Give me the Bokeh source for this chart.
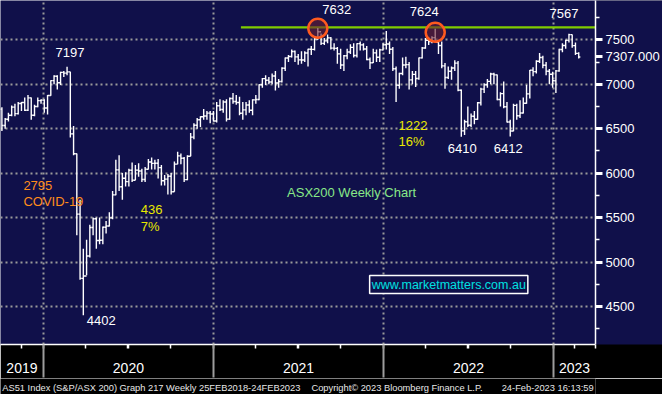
import numpy as np
import pandas as pd
from bokeh.plotting import figure
from bokeh.layouts import column
from bokeh.models import ColumnDataSource, FixedTicker, Label, Range1d, CustomJSTickFormatter
from bokeh.embed import file_html
from bokeh.resources import INLINE

FONT = "Liberation Sans"
NAVY = "#10104a"

# ---------------- data: S&P/ASX 200 weekly bars (week ending Friday) ----------------
first_week = "2019-10-04"

opens = [
    6720, 6535, 6606, 6651, 6742, 6669, 6784, 6795, 6708, 6846, 6651, 6750, 6816,
    6821, 6733, 6874, 7041, 7090, 7017, 7133, 7125, 7139, 6441, 6218, 5539, 4816,
    4842, 5068, 5388, 5487, 5242, 5245, 5391, 5405, 5497, 5755, 6037, 5847, 5942,
    5904, 6033, 5920, 6034, 6024, 5928, 6043, 6125, 6110, 6111, 6062, 5914, 5933,
    5964, 5791, 6101, 6194, 6167, 5927, 6190, 6405, 6539, 6601, 6634, 6642, 6675,
    6665,
    6587, 6758, 6716, 6800, 6607, 6840, 6806, 6794, 6673, 6711, 6767, 6708, 6824,
    6828, 6995, 7063, 7044, 7025, 7092, 7014, 7030, 7179, 7295, 7312, 7369, 7308,
    7274, 7273, 7351, 7394, 7392, 7511, 7590, 7460, 7488, 7522, 7406, 7403, 7342,
    7216, 7320, 7363, 7415, 7323, 7457, 7443, 7397, 7279, 7241, 7353, 7304, 7387,
    7444, 7453, 7393, 7174, 6988, 7121, 7217, 7221, 7049, 7111, 7064, 7296, 7407,
    7493, 7479, 7524, 7473, 7435, 7206, 7075, 7146, 7182, 7238, 6932, 6475, 6578,
    6538, 6640, 6606, 6792, 6945, 6995, 7032, 7115, 7105, 6829, 6894, 6747, 6575,
    6474, 6762, 6645, 6677, 6786, 6892, 7158, 7142, 7259, 7301, 7214, 7146, 7112,
    7039, 7150, 7391, 7435, 7493, 7558, 7434, 7347,
]
highs = [
    6740, 6620, 6680, 6760, 6780, 6800, 6800, 6850, 6880, 6850, 6770, 6850, 6830,
    6830, 6880, 7045, 7100, 7100, 7140, 7150, 7197, 7140, 6530, 6220, 5700, 5150,
    5250, 5420, 5500, 5500, 5500, 5400, 5460, 5560, 5800, 6150, 6200, 6000, 6010,
    6050, 6120, 6090, 6110, 6050, 6070, 6160, 6175, 6150, 6160, 6090, 5980, 5990,
    6000, 6130, 6240, 6220, 6180, 6200, 6450, 6560, 6620, 6640, 6720, 6700, 6700,
    6700,
    6800, 6830, 6820, 6830, 6850, 6900, 6880, 6860, 6800, 6800, 6820, 6830, 6880,
    7000, 7070, 7100, 7080, 7120, 7150, 7060, 7190, 7300, 7330, 7390, 7380, 7340,
    7370, 7370, 7400, 7430, 7520, 7632, 7570, 7520, 7560, 7530, 7460, 7420, 7400,
    7330, 7400, 7450, 7460, 7460, 7480, 7460, 7430, 7300, 7400, 7390, 7400, 7460,
    7600, 7480, 7420, 7200, 7130, 7300, 7310, 7250, 7150, 7150, 7300, 7420, 7520,
    7530, 7540, 7624, 7500, 7480, 7240, 7200, 7200, 7270, 7260, 6940, 6600, 6750,
    6670, 6700, 6800, 6960, 7010, 7060, 7130, 7130, 7110, 6910, 7030, 6800, 6600,
    6780, 6780, 6820, 6850, 6990, 7160, 7190, 7270, 7350, 7320, 7250, 7170, 7140,
    7160, 7400, 7460, 7500, 7567, 7560, 7470, 7360,
]
lows = [
    6475, 6500, 6580, 6640, 6640, 6660, 6700, 6700, 6700, 6600, 6640, 6740, 6780,
    6680, 6660, 6870, 7000, 6940, 6990, 7080, 7100, 6400, 6200, 5300, 4800, 4402,
    4850, 5050, 5300, 5150, 5200, 5200, 5320, 5400, 5480, 5750, 5800, 5700, 5850,
    5850, 5900, 5920, 5960, 5900, 5900, 6040, 6040, 6040, 5940, 5860, 5860, 5760,
    5760, 5790, 6100, 6100, 5900, 5920, 6190, 6380, 6500, 6520, 6600, 6600, 6560,
    6580,
    6570, 6700, 6680, 6580, 6600, 6780, 6770, 6650, 6600, 6650, 6680, 6650, 6780,
    6820, 6960, 6990, 7000, 7000, 6930, 6960, 7020, 7150, 7250, 7300, 7250, 7220,
    7230, 7250, 7200, 7330, 7380, 7500, 7440, 7440, 7460, 7390, 7380, 7230, 7170,
    7150, 7280, 7340, 7300, 7300, 7380, 7380, 7270, 7170, 7240, 7250, 7250, 7380,
    7390, 7340, 7150, 6800, 6950, 7100, 7180, 6940, 7000, 6970, 7050, 7290, 7400,
    7440, 7460, 7470, 7340, 7180, 6950, 7060, 7050, 7150, 6920, 6410, 6430, 6520,
    6520, 6550, 6600, 6760, 6900, 6960, 7000, 7000, 6820, 6750, 6730, 6570, 6412,
    6470, 6600, 6620, 6670, 6780, 6840, 7090, 7120, 7240, 7180, 7100, 7000, 6960,
    6900, 7140, 7360, 7400, 7470, 7410, 7330, 7290,
]
closes = [
    6535, 6606, 6651, 6742, 6669, 6784, 6795, 6708, 6846, 6651, 6750, 6816, 6821,
    6733, 6874, 7041, 7090, 7017, 7133, 7125, 7139, 6441, 6218, 5539, 4816, 4842,
    5068, 5388, 5487, 5242, 5245, 5391, 5405, 5497, 5755, 6037, 5847, 5942, 5904,
    6033, 5920, 6034, 6024, 5928, 6043, 6125, 6110, 6111, 6062, 5914, 5933, 5964,
    5791, 6101, 6194, 6167, 5927, 6190, 6405, 6539, 6601, 6634, 6642, 6675, 6665,
    6587,
    6758, 6716, 6800, 6607, 6840, 6806, 6794, 6673, 6711, 6767, 6708, 6824, 6828,
    6995, 7063, 7044, 7025, 7092, 7014, 7030, 7179, 7295, 7312, 7369, 7308, 7274,
    7273, 7351, 7394, 7392, 7511, 7590, 7460, 7488, 7522, 7406, 7403, 7342, 7216,
    7320, 7363, 7415, 7323, 7457, 7443, 7397, 7279, 7241, 7353, 7304, 7387, 7444,
    7453, 7393, 7174, 6988, 7121, 7217, 7221, 7049, 7111, 7064, 7296, 7407, 7493,
    7479, 7524, 7473, 7435, 7206, 7075, 7146, 7182, 7238, 6932, 6475, 6578, 6538,
    6640, 6606, 6792, 6945, 6995, 7032, 7115, 7105, 6829, 6894, 6747, 6575, 6474,
    6762, 6645, 6677, 6786, 6892, 7158, 7142, 7259, 7301, 7214, 7146, 7112, 7039,
    7150, 7391, 7435, 7493, 7558, 7434, 7347, 7307,
]

view_start, view_end = "2019-10-01", "2023-04-01"
y_lo, y_hi = 4072, 7942
y_ticks = [4500, 5000, 5500, 6000, 6500, 7000, 7500]
y_minor = [4250, 4750, 5250, 5750, 6250, 6750, 7250, 7750]
year_starts = ["2020-01-01", "2021-01-01", "2022-01-01", "2023-01-01"]
quarter_starts = ["2019-10-01", "2020-01-01", "2020-04-01", "2020-07-01", "2020-10-01",
                  "2021-01-01", "2021-04-01", "2021-07-01", "2021-10-01", "2022-01-01",
                  "2022-04-01", "2022-07-01", "2022-10-01", "2023-01-01", "2023-04-01"]
year_names = ["2019", "2020", "2021", "2022", "2023"]

resistance_start = "2021-03-01"
resistance_level = 7640
circle_weeks = ["2021-08-13", "2022-04-22"]
circle_levels = [7630, 7585]

# week, which extreme is labelled
extreme_notes = [("2020-02-21", "high"), ("2020-03-27", "low"), ("2021-08-13", "high"),
                 ("2022-04-22", "high"), ("2022-06-17", "low"), ("2022-09-30", "low"),
                 ("2023-02-03", "high")]

footer_texts = ["AS51 Index (S&P/ASX 200) Graph 217  Weekly 25FEB2018-24FEB2023",
                "Copyright\u00a9 2023 Bloomberg Finance L.P.",
                "24-Feb-2023 16:13:59"]


def frac_year(values):
    ts = pd.DatetimeIndex(pd.to_datetime(values))
    start = pd.to_datetime(ts.year.astype(str) + "-01-01")
    days = np.where(ts.is_leap_year, 366.0, 365.0)
    return np.asarray(ts.year + (ts - start).days / days, dtype=float)


dates = pd.date_range(first_week, periods=len(closes), freq="W-FRI")
xs = frac_year(dates)
x_lo, x_hi = frac_year([view_start, view_end])
yb = frac_year(year_starts)
qb = frac_year(quarter_starts)

half = 3.5 / 365.25
src = ColumnDataSource(dict(x=xs, xl=xs - half, xr=xs + half,
                            o=opens, h=highs, l=lows, c=closes))

W = 662
FW, FH = 598, 344
p = figure(width=W, height=378, output_backend="svg", toolbar_location=None,
           x_range=Range1d(x_lo, x_hi), y_range=Range1d(y_lo, y_hi),
           y_axis_location="right",
           background_fill_color=NAVY, border_fill_color="black",
           min_border_left=0, min_border_top=0, min_border_right=W - FW,
           min_border_bottom=34)
p.outline_line_color = None

# grids
p.xgrid.ticker = FixedTicker(ticks=list(yb))
p.ygrid.ticker = FixedTicker(ticks=y_ticks)
for g in (p.xgrid[0], p.ygrid[0]):
    g.grid_line_color = "#9a9a9a"
    g.grid_line_dash = "2 3"
    g.grid_line_width = 2

# bottom axis: small quarter ticks, year names centred in the visible part of each year,
# long grey separators at the year starts
edges = [x_lo] + list(yb) + [x_hi]
label_pos = [(edges[i] + edges[i + 1]) / 2 for i in range(len(edges) - 1)]
major = sorted(set([round(v, 6) for v in list(qb) + label_pos]))
xa = p.xaxis[0]
xa.ticker = FixedTicker(ticks=major, minor_ticks=list(yb))
xa.formatter = CustomJSTickFormatter(
    args=dict(pos=[round(v, 6) for v in label_pos], names=year_names),
    code="for (let i = 0; i < pos.length; i++) { if (Math.abs(tick - pos[i]) < 1e-4) return names[i]; } return '';")
xa.axis_line_color = "white"
xa.axis_line_width = 1.5
xa.major_tick_line_color = "white"
xa.major_tick_line_width = 1.5
xa.major_tick_out = 4
xa.major_tick_in = 0
xa.minor_tick_out = 33
xa.minor_tick_in = 0
xa.minor_tick_line_color = "#9c9c9c"
xa.minor_tick_line_width = 2
xa.major_label_standoff = -15
xa.major_label_text_color = "white"
xa.major_label_text_font = FONT
xa.major_label_text_font_size = "14px"

# right axis, with the last price shown as an extra labelled tick
last_txt = f"{closes[-1]:.3f}"
ya = p.yaxis[0]
ya.ticker = FixedTicker(ticks=y_ticks + [closes[-1]], minor_ticks=y_minor)
ya.major_label_overrides = {closes[-1]: last_txt}
ya.axis_line_color = "white"
ya.axis_line_width = 1.5
ya.major_tick_out = 7
ya.major_tick_in = 0
ya.major_tick_line_color = "white"
ya.major_tick_line_width = 3
ya.minor_tick_out = 4
ya.minor_tick_in = 0
ya.minor_tick_line_color = "white"
ya.minor_tick_line_width = 1.5
ya.major_label_standoff = 3
ya.major_label_text_color = "white"
ya.major_label_text_font = FONT
ya.major_label_text_font_size = "13px"
try:
    ya.background_fill_color = NAVY
except Exception:
    pass

# resistance line
p.segment(x0=[frac_year([resistance_start])[0]], y0=[resistance_level],
          x1=[x_hi], y1=[resistance_level], line_color="#80cc00", line_width=2.2)

# OHLC bars
bar_kw = dict(source=src, line_color="white", line_width=1.4)
p.segment(x0="x", y0="l", x1="x", y1="h", **bar_kw)
p.segment(x0="xl", y0="o", x1="x", y1="o", **bar_kw)
p.segment(x0="x", y0="c", x1="xr", y1="c", **bar_kw)

# circled tops
p.scatter(x=frac_year(circle_weeks), y=circle_levels, size=19, marker="circle",
          fill_color="#6a2030", fill_alpha=0.6, line_color="#ff5a1f", line_width=2.5)


def label(**kw):
    base = dict(text_font=FONT, text_font_size="13px", text_baseline="middle")
    base.update(kw)
    return Label(**base)


# labelled extremes, offsets in px
offsets = [(3, 14), (18, -5), (19, 19), (-11, 17), (1, -12), (-2, -12), (-5, 20)]
for (wk, kind), (dx, dy) in zip(extreme_notes, offsets):
    i = dates.get_loc(pd.Timestamp(wk))
    v = highs[i] if kind == "high" else lows[i]
    p.add_layout(label(x=xs[i], y=v, text=str(v), x_offset=dx, y_offset=dy,
                       text_align="center", text_color="white"))


def px_x(px):
    return x_lo + px / FW * (x_hi - x_lo)


def px_y(py):
    return y_hi - py / FH * (y_hi - y_lo)


free_texts = [("2795", 23, 185, "#ff8c1a"), ("COVID-19", 23, 201, "#ff8c1a"),
              ("436", 141, 209, "#e8e800"), ("7%", 141, 226, "#e8e800"),
              ("1222", 400, 125, "#e8e800"), ("16%", 400, 141, "#e8e800"),
              ("ASX200 Weekly Chart", 288, 192, "#88e888")]
for t, px, py, col in free_texts:
    p.add_layout(label(x=px_x(px), y=px_y(py), text=t, text_align="left", text_color=col))

site_kw = dict(x=px_x(450.5), y=px_y(284), text="www.marketmatters.com.au",
               text_align="center", text_color="#00e0e0", text_font_size="12.5px",
               background_fill_color=NAVY, border_line_color="white", border_line_width=1.5)
try:
    p.add_layout(label(padding=2, **site_kw))
except Exception:
    p.add_layout(label(**site_kw))

# footer strip as its own small figure
foot = figure(width=W, height=16, output_backend="svg", toolbar_location=None,
              x_range=Range1d(0, W), y_range=Range1d(0, 16),
              x_axis_location=None, y_axis_location=None,
              background_fill_color="black", border_fill_color="black",
              min_border=0)
foot.outline_line_color = None
foot.xgrid.visible = False
foot.ygrid.visible = False
foot_kw = dict(y=7, text_font=FONT, text_font_size="9.3px", text_color="#e8e8e8")
foot.add_layout(label(x=2, text=footer_texts[0], text_align="left", **foot_kw))
foot.add_layout(label(x=346, text=footer_texts[1], text_align="left", **foot_kw))
foot.add_layout(label(x=W - 2, text=footer_texts[2], text_align="right", **foot_kw))

layout = column(p, foot, spacing=0)
open("out.html", "w").write(file_html(layout, INLINE))
